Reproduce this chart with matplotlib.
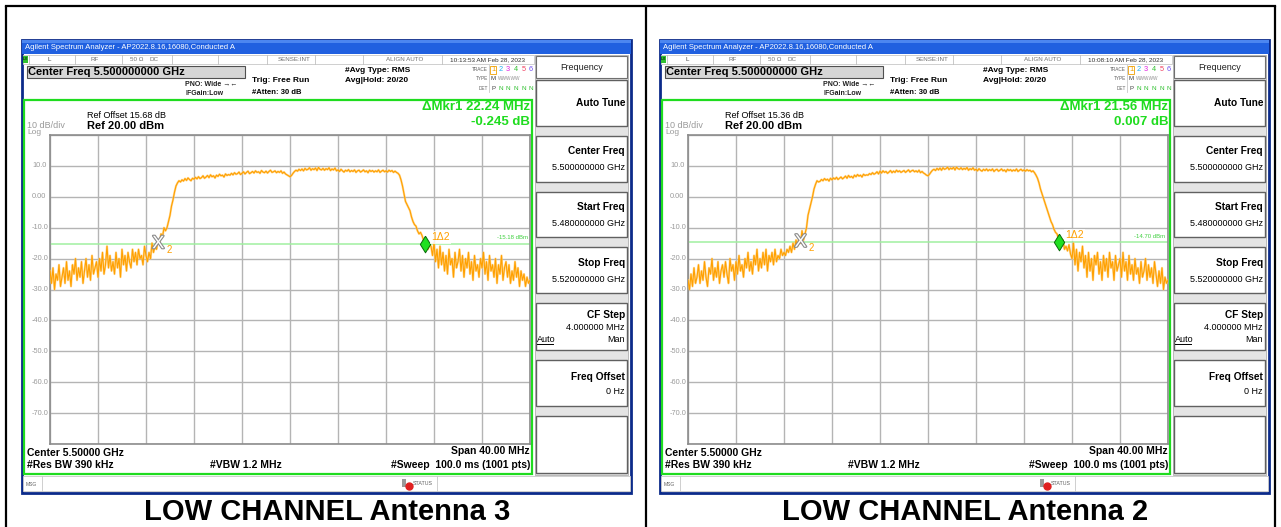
import matplotlib
matplotlib.use("Agg")
import matplotlib.pyplot as plt
from matplotlib.patches import Rectangle
from matplotlib import patheffects as pe
import matplotlib.transforms as mtransforms
import numpy as np

W, H = 1281, 527
plt.rcParams['font.family'] = ['Liberation Sans', 'DejaVu Sans']

# Sweep: 5.5 GHz center, 40 MHz span, plotted as offset from center (MHz)
freq_start, freq_stop, freq_step = -20.0, 20.0, 0.125
ref_level, db_per_div = 20.0, 10.0

# Trace amplitudes (dBm), one value per 0.125 MHz, 8 values per MHz row
ant3_trace = [
    -24, -28, -23, -30, -25, -27, -22, -29,
    -26, -23, -28, -21, -27, -24, -29, -22,
    -25, -20, -27, -23, -26, -21, -28, -24,
    -20, -26, -22, -27, -19, -25, -23, -21,
    -26, -20, -24, -18, -25, -22, -16, -23,
    -19, -24, -21, -25, -18, -23, -20, -26,
    -17, -22, -19, -24, -18, -21, -23, -17,
    -21, -18, -22, -17, -20, -19, -22, -16,
    -19, -21, -18, -20, -15, -18, -16, -17,
    -14, -15, -12, -13, -10, -11, -10, -8,
    -6, -3, -1, 1.5, 3.5, 4.5, 5.2, 4.8,
    5.5, 5.1, 5.9, 5.3, 6.1, 5.6, 5.2, 6.0,
    5.7, 6.3, 5.8, 6.5, 5.9, 6.2, 6.8, 6.0,
    6.4, 6.9, 6.2, 7.1, 6.5, 6.8, 6.1, 7.0,
    6.6, 7.3, 6.8, 7.0, 6.4, 7.4, 6.9, 7.2,
    7.0, 7.6, 7.1, 7.8, 7.3, 7.5, 8.0, 7.2,
    7.6, 8.1, 7.4, 7.9, 8.3, 7.5, 7.8, 8.2,
    7.7, 8.4, 7.9, 8.1, 7.6, 8.5, 8.0, 7.8,
    8.3, 7.7, 8.2, 8.6, 7.9, 8.1, 8.4, 7.8,
    8.2, 7.9, 8.4, 7.6, 8.0, 7.4, 7.1, 6.8,
    6.5, 6.9, 7.6, 8.2, 8.6, 8.3, 8.9, 8.5,
    9.0, 8.4, 9.2, 8.7, 8.9, 9.4, 8.6, 9.1,
    8.8, 9.3, 8.5, 9.5, 8.9, 8.7, 9.2, 8.6,
    9.1, 8.8, 9.4, 8.5, 9.0, 8.7, 9.3, 8.4,
    8.7, 8.2, 8.9, 8.4, 8.0, 8.6, 8.3, 8.8,
    8.1, 8.5, 8.2, 8.7, 7.9, 8.4, 8.6, 8.0,
    8.3, 8.7, 8.1, 8.4, 7.8, 8.6, 8.2, 8.5,
    8.0, 8.4, 8.1, 8.7, 7.9, 8.3, 8.6, 8.1,
    8.4, 8.0, 8.6, 8.2, 8.5, 7.9, 8.3, 7.9,
    7.6, 7.0, 5.5, 3.5, 1.0, -1.5, -2.5, -3.5,
    -4.5, -6.5, -8.0, -9.0, -9.5, -11.0, -12.0, -11.5,
    -12.5, -14.0, -15.0, -14.0, -17.0, -15.5, -16.0, -19.0,
    -15, -21, -17, -23, -16, -22, -18, -24,
    -19, -25, -17, -22, -20, -26, -18, -23,
    -21, -17, -24, -19, -26, -20, -23, -18,
    -25, -21, -27, -19, -24, -22, -26, -20,
    -23, -18, -25, -21, -27, -19, -24, -22,
    -26, -20, -28, -22, -25, -19, -27, -23,
    -21, -26, -22, -28, -24, -27, -21, -26,
    -23, -29, -24, -27, -25, -29, -26, -28,
    -27,
]
ant2_trace = [
    -27, -30, -25, -29, -23, -28, -26, -22,
    -28, -24, -27, -21, -26, -29, -23, -25,
    -20, -27, -23, -26, -21, -28, -24, -22,
    -26, -21, -25, -28, -20, -24, -22, -27,
    -21, -25, -19, -24, -22, -26, -20, -23,
    -18, -24, -21, -25, -19, -22, -17, -24,
    -20, -23, -18, -22, -17, -24, -19, -21,
    -18, -22, -17, -21, -19, -20, -17, -19,
    -18, -19, -17, -18, -16, -18, -15, -17,
    -14, -16, -13, -15, -11, -14, -12, -10,
    -6, -4, -2, 0, 2.5, 4, 5.2, 4.8,
    5.0, 5.6, 5.2, 5.9, 5.4, 5.7, 5.1, 6.0,
    5.5, 6.1, 5.7, 6.3, 5.6, 6.0, 6.4, 5.8,
    6.2, 6.7, 6.0, 6.9, 6.3, 6.6, 6.1, 7.0,
    6.5, 7.2, 6.7, 7.0, 6.4, 7.3, 6.9, 7.1,
    7.0, 7.5, 7.2, 7.8, 7.3, 7.6, 8.1, 7.4,
    8.3, 7.7, 8.4, 7.9, 8.2, 7.6, 8.0, 8.5,
    7.8, 8.3, 7.9, 8.6, 8.1, 8.4, 7.9, 8.2,
    8.5, 7.9, 8.3, 8.7, 8.0, 8.4, 8.6, 8.1,
    8.4, 8.0, 8.6, 7.8, 8.2, 7.7, 7.4, 7.0,
    6.8, 7.3, 8.0, 8.6, 8.9, 8.5, 9.2, 8.7,
    9.3, 8.6, 9.4, 8.9, 9.1, 9.6, 8.8, 9.3,
    9.0, 9.5, 8.7, 9.6, 9.1, 8.9, 9.4, 8.8,
    9.2, 8.9, 9.5, 8.6, 9.1, 8.8, 9.4, 8.6,
    8.9, 8.4, 9.1, 8.6, 8.3, 8.9, 8.5, 9.0,
    8.4, 8.8, 8.5, 9.0, 8.2, 8.7, 8.9, 8.3,
    8.6, 9.0, 8.4, 8.7, 8.1, 8.9, 8.5, 8.8,
    8.3, 8.7, 8.4, 9.0, 8.2, 8.6, 8.9, 8.4,
    8.7, 8.3, 8.8, 8.4, 8.6, 8.1, 8.4, 7.8,
    7.0, 6.0, 4.5, 2.5, 1.0, -0.5, -2.0, -3.5,
    -5.0, -6.5, -8.0, -9.0, -10.5, -11.5, -12.0, -13.5,
    -14.5, -15.0, -14.0, -17.0, -16.0, -17.5, -15.5, -18.5,
    -20, -15, -22, -17, -24, -18, -21, -16,
    -23, -19, -26, -18, -24, -20, -27, -19,
    -22, -18, -25, -21, -27, -19, -24, -20,
    -26, -18, -23, -21, -27, -19, -24, -22,
    -20, -26, -18, -24, -21, -27, -19, -25,
    -22, -27, -20, -25, -23, -28, -21, -26,
    -24, -20, -27, -22, -26, -23, -28, -21,
    -25, -29, -24, -28, -23, -30, -26, -28,
    -27,
]

captions = ["LOW CHANNEL Antenna 3", "LOW CHANNEL Antenna 2"]
ref_offsets = ["15.68", "15.36"]
timestamps = ["10:13:53 AM Feb 28, 2023", "10:08:10 AM Feb 28, 2023"]
mkr_ref_freq = [-10.98, -10.62]      # MHz, reference marker 2
mkr_delta_mhz = [22.24, 21.56]       # marker 1 relative to marker 2
mkr_delta_db = [-0.245, 0.007]
display_line = [-15.18, -14.70]      # dBm
y_labels = ["10.0", "0.00", "-10.0", "-20.0", "-30.0", "-40.0", "-50.0", "-60.0", "-70.0"]
y_label_vals = [10, 0, -10, -20, -30, -40, -50, -60, -70]

traces = [ant3_trace, ant2_trace]
freqs = freq_start + freq_step * np.arange(len(ant3_trace))

GREEN = '#1fdc1f'
ORANGE = '#ffa000'
GRID_GRAY = '#b4b4b4'
LABEL_GRAY = '#9a9a9a'

fig = plt.figure(figsize=(W / 100, H / 100), dpi=100)
bg = fig.add_axes([0, 0, 1, 1])
bg.set_xlim(0, W)
bg.set_ylim(H, 0)
bg.axis('off')

# table rules around the two screenshots
for x in (6, 646, 1275):
    bg.plot([x, x], [6, H], color='black', lw=1.6, solid_capstyle='butt')
bg.plot([6, 1275], [6, 6], color='black', lw=1.6)


def txt(x, y, s, size=6, weight='normal', color='black', ha='left', va='center', **kw):
    bg.text(x, y, s, fontsize=size, fontweight=weight, color=color, ha=ha, va=va, **kw)


def rect(x, y, w, h, fc='none', ec='none', lw=1.0, z=1):
    bg.add_patch(Rectangle((x, y), w, h, facecolor=fc, edgecolor=ec, lw=lw, zorder=z))


def draw_panel(k, ox):
    # window body and title bar
    rect(ox + 22, 40, 609, 453, fc='white', ec='#0b2a8a', lw=2, z=1)
    rect(ox + 22, 40, 609, 14, fc='#2060e0', z=2)
    rect(ox + 22, 40, 609, 3, fc='#4c86f0', z=2)
    txt(ox + 25, 47.5, "Agilent Spectrum Analyzer - AP2022.8.16,16080,Conducted A",
        size=5.5, color='white', zorder=3)

    # status row
    rect(ox + 23, 55, 511, 9, fc='white', ec='#c8c8c8', lw=0.6, z=2)
    for sx in (29, 75, 122, 172, 218, 267, 315, 363, 442):
        bg.plot([ox + sx, ox + sx], [55, 64], color='#c0c0c0', lw=0.6, zorder=3)
    rect(ox + 23, 56, 5, 7, fc='#30c030', z=3)
    txt(ox + 25.5, 59.5, "LX", size=3.2, ha='center', zorder=4)
    txt(ox + 48, 59.5, "L", size=4.5, color='#404040', zorder=4)
    txt(ox + 95, 59.5, "RF", size=4.5, color='#707070', ha='center', zorder=4)
    txt(ox + 130, 59.5, "50 Ω", size=4.5, color='#707070', zorder=4)
    txt(ox + 150, 59.5, "DC", size=4.5, color='#707070', zorder=4)
    txt(ox + 294, 59.5, "SENSE:INT", size=4.5, color='#707070', ha='center', zorder=4)
    txt(ox + 405, 59.5, "ALIGN AUTO", size=4.5, color='#707070', ha='center', zorder=4)
    txt(ox + 488, 59.5, timestamps[k], size=4.6, color='#303030', ha='center', zorder=4)

    # active function box
    rect(ox + 27, 66, 218, 11.5, fc='#d6d6d6', ec='#505050', lw=0.8, z=2)
    txt(ox + 28, 72, "Center Freq 5.500000000 GHz", size=8, weight='bold', zorder=3)

    txt(ox + 185, 84.5, "PNO: Wide →←", size=5, weight='bold', color='#202020', zorder=3)
    txt(ox + 185, 93.5, "IFGain:Low", size=5, weight='bold', color='#202020', zorder=3)
    txt(ox + 252, 81, "Trig: Free Run", size=6, weight='bold', zorder=3)
    txt(ox + 252, 92, "#Atten: 30 dB", size=5.5, weight='bold', zorder=3)
    txt(ox + 345, 70, "#Avg Type: RMS", size=6, weight='bold', zorder=3)
    txt(ox + 345, 80, "Avg|Hold: 20/20", size=6, weight='bold', zorder=3)

    # trace / type / detector block
    txt(ox + 488, 69.5, "TRACE", size=3.4, color='#606060', ha='right', zorder=3)
    txt(ox + 488, 79, "TYPE", size=3.4, color='#606060', ha='right', zorder=3)
    txt(ox + 488, 88, "DET", size=3.4, color='#606060', ha='right', zorder=3)
    bg.plot([ox + 489, ox + 489], [65, 92], color='#c8c8c8', lw=0.6, zorder=3)
    digit_colors = ['#f0a000', '#20b0f0', '#e020e0', '#30c030', '#f04060', '#7050f0']
    for i, c in enumerate(digit_colors):
        txt(ox + 493 + 7.6 * i, 69.5, str(i + 1), size=5.3, color=c, ha='center', zorder=3)
    rect(ox + 490, 65.5, 6, 8, ec='#f0a000', lw=0.6, z=3)
    txt(ox + 493, 79, "M", size=4.3, color='#404040', ha='center', zorder=3)
    txt(ox + 498, 79, "WWWWW", size=3.4, color='#909090', zorder=3)
    txt(ox + 493, 88, "P", size=4.3, color='#404040', ha='center', zorder=3)
    for i in range(5):
        txt(ox + 500.6 + 7.6 * i, 88, "N", size=4.6, color='#30c030', ha='center', zorder=3)

    # measurement area frame
    rect(ox + 24, 100, 508, 374, ec=GREEN, lw=1.6, z=5)
    txt(ox + 27, 126, "10 dB/div", size=6.5, color=LABEL_GRAY, zorder=3)
    txt(ox + 27, 132.5, "Log", size=6, color=LABEL_GRAY, zorder=3)
    txt(ox + 87, 115, f"Ref Offset {ref_offsets[k]} dB", size=6.5, zorder=3)
    txt(ox + 87, 126, "Ref 20.00 dBm", size=8, weight='bold', zorder=3)

    ref_f = mkr_ref_freq[k]
    dl = display_line[k]
    mk_f = ref_f + mkr_delta_mhz[k]
    mk_a = dl + mkr_delta_db[k]
    txt(ox + 530, 107, f"ΔMkr1 {mkr_delta_mhz[k]:.2f} MHz", size=9.5, weight='bold',
        color=GREEN, ha='right', zorder=3)
    txt(ox + 530, 122, f"{mkr_delta_db[k]:.3f} dB", size=9.5, weight='bold',
        color=GREEN, ha='right', zorder=3)

    # graticule
    gx0, gx1, gy0, gy1 = ox + 50, ox + 530, 135, 444
    ax = fig.add_axes([gx0 / W, 1 - gy1 / H, (gx1 - gx0) / W, (gy1 - gy0) / H])
    ax.set_xlim(freq_start, freq_stop)
    ax.set_ylim(ref_level - 10 * db_per_div, ref_level)
    ax.set_xticks(np.arange(freq_start, freq_stop + 0.1, 4))
    ax.set_yticks(np.arange(ref_level - 10 * db_per_div, ref_level + 0.1, db_per_div))
    ax.tick_params(length=0, labelbottom=False, labelleft=False)
    ax.grid(True, color=GRID_GRAY, lw=1.0)
    ax.set_axisbelow(True)
    for sp in ax.spines.values():
        sp.set_color('#8c8c8c')
        sp.set_linewidth(1.2)
    ax.patch.set_alpha(0)

    ax.axhline(dl, color='#a0f0a0', lw=1.1, zorder=2)
    ax.text(0.995, dl + 1.2, f"{dl:.2f} dBm", transform=mtransforms.blended_transform_factory(
        ax.transAxes, ax.transData), fontsize=4.3, color='#40d040', ha='right', va='bottom')

    tr = traces[k]
    ax.plot(freqs, tr, color='#ffc866', lw=1.6, alpha=0.7, zorder=3)
    ax.plot(freqs, tr, color=ORANGE, lw=0.8, zorder=4)

    # reference marker 2
    ax.text(ref_f, dl, "X", fontsize=13, color='white', ha='center', va='center', zorder=6,
            path_effects=[pe.Stroke(linewidth=1.6, foreground='#8a8a8a'), pe.Normal()])
    ax.annotate("2", (ref_f, dl), xytext=(8, -6), textcoords='offset pixels',
                fontsize=7, color=ORANGE, ha='left', va='center', zorder=6)
    # delta marker 1
    diamond = [(0, 1), (0.62, 0), (0, -1), (-0.62, 0), (0, 1)]
    ax.plot([mk_f], [mk_a], marker=diamond, ms=12, color='#20e020', mec='#0a6a0a',
            mew=0.7, zorder=7)
    ax.annotate("1Δ2", (mk_f, mk_a), xytext=(6, 7), textcoords='offset pixels',
                fontsize=7.5, color=ORANGE, ha='left', va='center', zorder=7,
                bbox=dict(boxstyle='square,pad=0.1', fc='white', ec='none', alpha=0.8))

    for lab, v in zip(y_labels, y_label_vals):
        ax.text(-18 / 480, v, lab, transform=mtransforms.blended_transform_factory(
            ax.transAxes, ax.transData), fontsize=5.3, color=LABEL_GRAY, ha='left', va='center')

    # footer annotations
    txt(ox + 27, 452.5, "Center 5.50000 GHz", size=7.5, weight='bold', zorder=3)
    txt(ox + 27, 465, "#Res BW 390 kHz", size=7.5, weight='bold', zorder=3)
    txt(ox + 210, 465, "#VBW 1.2 MHz", size=7.5, weight='bold', zorder=3)
    txt(ox + 530, 451.5, "Span 40.00 MHz", size=7.5, weight='bold', ha='right', zorder=3)
    txt(ox + 530, 464.5, "#Sweep  100.0 ms (1001 pts)", size=7.5, weight='bold', ha='right',
        zorder=3)

    # message bar
    rect(ox + 23, 476, 607, 15, fc='white', ec='#c8c8c8', lw=0.6, z=2)
    bg.plot([ox + 42, ox + 42], [476, 491], color='#c8c8c8', lw=0.6, zorder=3)
    bg.plot([ox + 437, ox + 437], [476, 491], color='#c8c8c8', lw=0.6, zorder=3)
    txt(ox + 26, 484, "MSG", size=3.6, color='#606060', zorder=3)
    rect(ox + 402, 479, 4, 8, fc='#9a9a9a', z=3)
    bg.plot([ox + 409], [486], marker='o', ms=5, color='#e02020', zorder=4)
    txt(ox + 413, 483.5, "STATUS", size=3.8, color='#606060', zorder=4)

    # softkey menu
    rect(ox + 535, 55, 93, 420, fc='#e4e4e4', ec='#b0b0b0', lw=0.6, z=2)
    rect(ox + 536, 56, 91, 22, fc='white', ec='#707070', lw=0.8, z=3)
    txt(ox + 581.5, 67, "Frequency", size=6.5, color='#202020', ha='center', zorder=4)
    buttons = [(80, 126), (136, 182), (192, 237), (247, 293), (303, 350), (360, 406), (416, 473)]
    for y0, y1 in buttons:
        rect(ox + 536, y0, 91, y1 - y0, fc='white', ec='#606060', lw=1.0, z=3)
    kx = ox + 625
    txt(kx, 103, "Auto Tune", size=7.3, weight='bold', ha='right', zorder=4)
    txt(kx, 151.5, "Center Freq", size=7.3, weight='bold', ha='right', zorder=4)
    txt(kx, 167, "5.500000000 GHz", size=6.5, ha='right', zorder=4)
    txt(kx, 207.5, "Start Freq", size=7.3, weight='bold', ha='right', zorder=4)
    txt(kx, 223, "5.480000000 GHz", size=6.5, ha='right', zorder=4)
    txt(kx, 263.5, "Stop Freq", size=7.3, weight='bold', ha='right', zorder=4)
    txt(kx, 279, "5.520000000 GHz", size=6.5, ha='right', zorder=4)
    txt(kx, 314.5, "CF Step", size=7.3, weight='bold', ha='right', zorder=4)
    txt(kx, 327, "4.000000 MHz", size=6.5, ha='right', zorder=4)
    txt(ox + 537, 339, "Auto", size=6.5, zorder=4)
    bg.plot([ox + 537, ox + 553], [343.5, 343.5], color='black', lw=0.7, zorder=4)
    txt(kx, 339, "Man", size=6.5, ha='right', zorder=4)
    txt(kx, 376.5, "Freq Offset", size=7.3, weight='bold', ha='right', zorder=4)
    txt(kx, 391, "0 Hz", size=6.5, ha='right', zorder=4)

    # caption below the screenshot
    txt(ox + 327, 512, captions[k], size=21, weight='bold', ha='center', zorder=3)


draw_panel(0, 0)
draw_panel(1, 638)

fig.savefig("out.png", dpi=100, facecolor='white')
